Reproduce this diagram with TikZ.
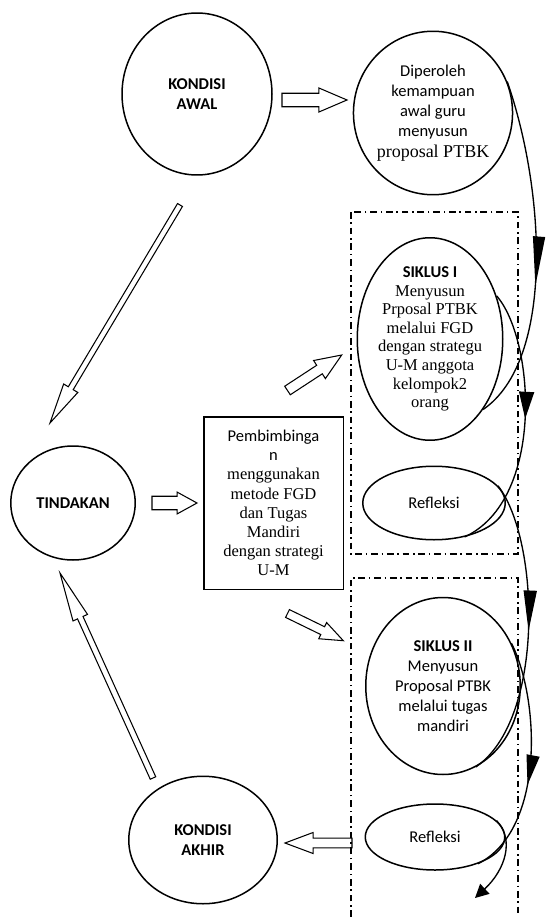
\documentclass[tikz,border=0pt]{standalone}
\usepackage{fontspec}
\setmainfont{Carlito}
\newfontfamily\tnr{Liberation Serif}
\usetikzlibrary{arrows.meta,calc,shapes.geometric,decorations.markings}
\tikzset{state/.style={ellipse,draw,line width=1pt,inner sep=0pt,align=center,font=\fontsize{11}{13.4}\selectfont}, plan/.style={draw,line width=1pt,align=center,inner sep=1pt,font=\fontsize{11}{12.8}\selectfont}, hollow/.style={draw,line width=0.7pt,line join=miter}, frame/.style={line width=0.9pt,dash pattern=on 4.5pt off 2.5pt on 1pt off 2.5pt}, cyc/.style={line width=0.9pt}, mid/.style n args={3}{decoration={markings,mark=at position #1 with {\arrow{Triangle[length=#2,width=#3]}}},postaction={decorate}}}
\newcommand{\tr}[1]{{\tnr #1}}
% tail, tip, half shaft, half head, head length
\newcommand{\blockarrow}[5]{\draw[hollow] ($(#1)!#3!90:(#2)$) -- ($(#2)!#5!(#1)!#3!-90:(#1)$) -- ($(#2)!#5!(#1)!#4!-90:(#1)$) -- (#2) -- ($(#2)!#5!(#1)!#4!90:(#1)$) -- ($(#2)!#5!(#1)!#3!90:(#1)$) -- ($(#1)!#3!-90:(#2)$) -- cycle;}
\begin{document}
\begin{tikzpicture}[x=0.6667pt,y=-0.6667pt]
\useasboundingbox (0,0) rectangle (547,917);
\node[state,minimum width=100pt,minimum height=108pt] (awal) at (197,94) {\textbf{KONDISI}\\\textbf{AWAL}};
\node[state,minimum width=100pt,minimum height=109pt] (dip) at (433,113) {Diperoleh\\kemampuan\\awal guru\\menyusun\\\tr{\fontsize{12}{13}\selectfont proposal PTBK}};
\node[state,minimum width=97pt,minimum height=135pt,inner sep=-4pt,font=\fontsize{11}{12.4}\selectfont] (s1) at (430,339) {\textbf{SIKLUS I}\\\tr{Menyusun}\\\tr{Prposal PTBK}\\\tr{melalui FGD}\\\tr{dengan strategu}\\\tr{U-M anggota}\\\tr{kelompok2}\\\tr{orang}};
\node[state,minimum width=95pt,minimum height=49pt] (r1) at (434,503) {Refleksi};
\node[state,minimum width=103pt,minimum height=118pt] (s2) at (443,686) {\textbf{SIKLUS II}\\Menyusun\\Proposal PTBK\\melalui tugas\\mandiri};
\node[state,minimum width=93pt,minimum height=44pt] (r2) at (435,837) {Refleksi};
\node[state,minimum width=83pt,minimum height=76pt] (tind) at (73,503) {\textbf{TINDAKAN}};
\node[state,minimum width=99pt,minimum height=85pt] (akhir) at (203,840) {\textbf{KONDISI}\\\textbf{AKHIR}};
\node[plan,minimum width=93pt,minimum height=115pt] (pemb) at (273.5,503) {Pembimbinga\\n\\\tr{menggunakan}\\\tr{metode FGD}\\\tr{dan Tugas}\\\tr{Mandiri}\\\tr{dengan strategi}\\\tr{U-M}};
% siklus frames
\draw[frame] (351,212) rectangle (518,554);
\draw[frame] (351,917) -- (351,578) -- (518,578) -- (518,917);
% block arrows
\coordinate (p1) at (282,100); \coordinate (q1) at (347,100);
\coordinate (p2) at (180,205); \coordinate (q2) at (50,423);
\coordinate (p3) at (153,778); \coordinate (q3) at (60,573);
\coordinate (p4) at (152,503); \coordinate (q4) at (197,503);
\coordinate (p5) at (287.5,390.5); \coordinate (q5) at (341.7,355);
\coordinate (p6) at (287.5,613.5); \coordinate (q6) at (343.3,640.7);
\coordinate (p7) at (352,843); \coordinate (q7) at (285,843);
\blockarrow{p1}{q1}{4.5pt}{8pt}{18.7pt}
\blockarrow{p2}{q2}{1.9pt}{5.5pt}{27pt}
\blockarrow{p3}{q3}{2pt}{5.3pt}{32.7pt}
\blockarrow{p4}{q4}{4.5pt}{7.3pt}{13.3pt}
\blockarrow{p5}{q5}{3.4pt}{7.2pt}{17.7pt}
\blockarrow{p6}{q6}{2.9pt}{6pt}{15.3pt}
\blockarrow{p7}{q7}{3.3pt}{7pt}{18.7pt}
% cycle connectors
\coordinate (fin) at (475,898);
\draw[cyc,mid={0.6}{33pt}{8pt}] (dip.23) .. controls (545,190) and (555,360) .. (s1.-53);
\draw[cyc,mid={0.48}{18pt}{10pt}] (s1.33) .. controls (535,340) and (545,500) .. (r1.-48);
\draw[cyc,mid={0.5}{27pt}{8.7pt}] (r1.15) .. controls (540,540) and (545,720) .. (s2.-68);
\draw[cyc,mid={0.6}{20pt}{8.7pt}] (s2.32) .. controls (540,700) and (545,830) .. (r2.-32);
\draw[cyc,-{Triangle[length=9pt,width=9pt]}] (r2.15) .. controls (515,840) and (505,870) .. (fin);
\end{tikzpicture}
\end{document}
